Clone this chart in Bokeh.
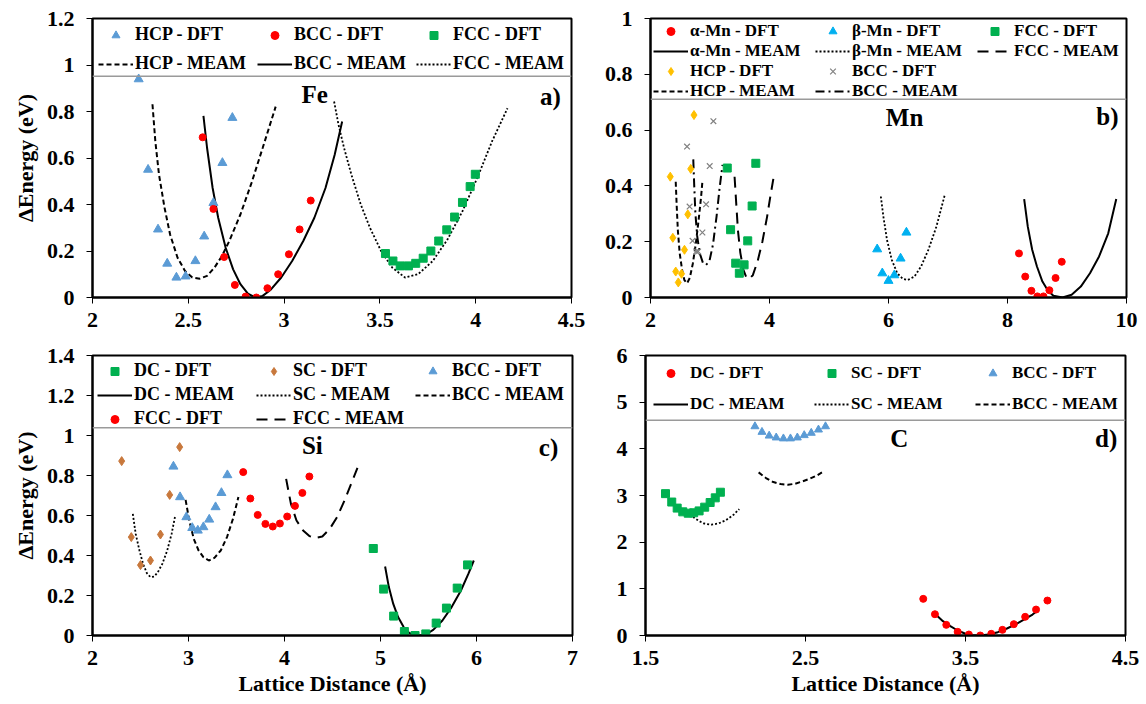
from bokeh.plotting import figure
from bokeh.models import FixedTicker, Legend, LegendItem, Span
from bokeh.layouts import column, row
from bokeh.embed import file_html
from bokeh.resources import INLINE
from bokeh.core.properties import value

FONT = "Liberation Serif"

# ================= Panel a: Fe =================
fe_hcp_dft_x = [2.241, 2.290, 2.342, 2.390, 2.438, 2.486, 2.537, 2.583, 2.631, 2.678, 2.730]
fe_hcp_dft_y = [0.939, 0.550, 0.293, 0.146, 0.086, 0.091, 0.157, 0.263, 0.407, 0.579, 0.773]
fe_bcc_dft_x = [2.575, 2.631, 2.687, 2.743, 2.799, 2.855, 2.913, 2.969, 3.025, 3.081, 3.139]
fe_bcc_dft_y = [0.689, 0.381, 0.174, 0.054, 0.004, 0.000, 0.040, 0.100, 0.186, 0.293, 0.417]
fe_fcc_dft_x = [3.529, 3.568, 3.606, 3.649, 3.687, 3.726, 3.766, 3.807, 3.849, 3.890, 3.931, 3.971, 3.998]
fe_fcc_dft_y = [0.189, 0.157, 0.136, 0.136, 0.147, 0.169, 0.200, 0.243, 0.291, 0.346, 0.409, 0.477, 0.530]
fe_hcp_meam_x = [2.313, 2.328, 2.347, 2.376, 2.405, 2.444, 2.483, 2.521, 2.560, 2.598, 2.637, 2.676,
                 2.714, 2.772, 2.830, 2.888, 2.956]
fe_hcp_meam_y = [0.831, 0.671, 0.529, 0.386, 0.271, 0.171, 0.114, 0.086, 0.081, 0.093, 0.129, 0.179,
                 0.243, 0.357, 0.493, 0.643, 0.821]
fe_bcc_meam_x = [2.579, 2.598, 2.627, 2.656, 2.695, 2.734, 2.772, 2.811, 2.849, 2.888, 2.927, 2.985,
                 3.042, 3.100, 3.158, 3.216, 3.264, 3.303]
fe_bcc_meam_y = [0.781, 0.643, 0.471, 0.343, 0.214, 0.121, 0.057, 0.017, 0.000, 0.007, 0.031, 0.086,
                 0.157, 0.243, 0.343, 0.471, 0.614, 0.757]
fe_fcc_meam_x = [3.261, 3.284, 3.313, 3.351, 3.400, 3.448, 3.506, 3.564, 3.631, 3.699, 3.776, 3.853,
                 3.931, 4.008, 4.085, 4.166]
fe_fcc_meam_y = [0.843, 0.743, 0.643, 0.529, 0.400, 0.300, 0.200, 0.129, 0.086, 0.100, 0.157, 0.250,
                 0.371, 0.514, 0.671, 0.814]
fe_note_x = [3.16, 4.39]
fe_note_y = [0.872, 0.865]
fe_note_text = ["Fe", "a)"]
fe_xticks = [2, 2.5, 3, 3.5, 4, 4.5]
fe_xlabels = ["2", "2.5", "3", "3.5", "4", "4.5"]
fe_yticks = [0, 0.2, 0.4, 0.6, 0.8, 1.0, 1.2]
fe_ylabels = ["0", "0.2", "0.4", "0.6", "0.8", "1", "1.2"]
fe_legend_line = 0.952

# ================= Panel b: Mn =================
mn_a_dft_x = [8.193, 8.298, 8.402, 8.501, 8.605, 8.704, 8.808, 8.912]
mn_a_dft_y = [0.158, 0.075, 0.024, 0.004, 0.004, 0.026, 0.070, 0.128]
mn_a_meam_x = [8.280, 8.341, 8.415, 8.495, 8.587, 8.679, 8.771, 8.925, 9.078, 9.232, 9.386, 9.539, 9.693, 9.828]
mn_a_meam_y = [0.353, 0.254, 0.171, 0.111, 0.057, 0.025, 0.006, 0.000, 0.010, 0.039, 0.087, 0.147, 0.230, 0.353]
mn_b_dft_x = [5.810, 5.896, 6.000, 6.098, 6.203, 6.301]
mn_b_dft_y = [0.173, 0.087, 0.060, 0.080, 0.140, 0.233]
mn_b_meam_x = [5.871, 5.914, 5.975, 6.055, 6.147, 6.240, 6.326, 6.436, 6.547, 6.670, 6.805, 6.946]
mn_b_meam_y = [0.362, 0.290, 0.206, 0.135, 0.087, 0.067, 0.063, 0.075, 0.111, 0.171, 0.254, 0.368]
mn_fcc_dft_x = [3.290, 3.346, 3.432, 3.493, 3.573, 3.634, 3.708, 3.770]
mn_fcc_dft_y = [0.464, 0.243, 0.123, 0.087, 0.117, 0.203, 0.328, 0.481]
mn_fcc_meam_x = [3.413, 3.440, 3.470, 3.510, 3.560, 3.610, 3.653, 3.720, 3.800, 3.880, 3.960, 4.020, 4.071]
mn_fcc_meam_y = [0.433, 0.340, 0.240, 0.160, 0.100, 0.072, 0.066, 0.080, 0.130, 0.200, 0.290, 0.370, 0.433]
mn_hcp_dft_x = [2.332, 2.375, 2.424, 2.467, 2.522, 2.571, 2.627, 2.676, 2.731]
mn_hcp_dft_y = [0.433, 0.214, 0.093, 0.054, 0.085, 0.171, 0.298, 0.461, 0.654]
mn_hcp_meam_x = [2.424, 2.440, 2.460, 2.490, 2.530, 2.570, 2.614, 2.660, 2.710, 2.760, 2.810, 2.850, 2.872]
mn_hcp_meam_y = [0.415, 0.330, 0.240, 0.160, 0.100, 0.062, 0.051, 0.070, 0.120, 0.190, 0.280, 0.360, 0.415]
mn_bcc_dft_x = [2.614, 2.657, 2.707, 2.768, 2.800, 2.872, 2.934, 2.995, 3.057]
mn_bcc_dft_y = [0.541, 0.326, 0.203, 0.165, 0.165, 0.233, 0.334, 0.471, 0.632]
mn_bcc_meam_x = [2.719, 2.735, 2.755, 2.785, 2.825, 2.880, 2.934, 2.990, 3.050, 3.110, 3.160, 3.210]
mn_bcc_meam_y = [0.495, 0.400, 0.300, 0.220, 0.160, 0.125, 0.117, 0.130, 0.190, 0.290, 0.390, 0.475]
mn_note_x = [6.27, 9.68]
mn_note_y = [0.646, 0.648]
mn_note_text = ["Mn", "b)"]
mn_xticks = [2, 4, 6, 8, 10]
mn_xlabels = ["2", "4", "6", "8", "10"]
mn_yticks = [0, 0.2, 0.4, 0.6, 0.8, 1.0]
mn_ylabels = ["0", "0.2", "0.4", "0.6", "0.8", "1"]
mn_legend_line = 0.711

# ================= Panel c: Si =================
si_sc_dft_x = [2.304, 2.404, 2.500, 2.604, 2.708, 2.804, 2.908]
si_sc_dft_y = [0.872, 0.492, 0.352, 0.375, 0.505, 0.703, 0.942]
si_sc_meam_x = [2.420, 2.450, 2.489, 2.527, 2.566, 2.604, 2.643, 2.681, 2.727, 2.778, 2.824, 2.862]
si_sc_meam_y = [0.608, 0.508, 0.425, 0.358, 0.312, 0.292, 0.295, 0.317, 0.358, 0.425, 0.508, 0.600]
si_bcc_dft_x = [2.843, 2.912, 2.978, 3.039, 3.097, 3.155, 3.216, 3.282, 3.343, 3.405]
si_bcc_dft_y = [0.845, 0.692, 0.592, 0.538, 0.525, 0.542, 0.580, 0.642, 0.713, 0.802]
si_bcc_meam_x = [2.970, 3.008, 3.055, 3.105, 3.155, 3.212, 3.270, 3.336, 3.401, 3.463, 3.520]
si_bcc_meam_y = [0.678, 0.575, 0.483, 0.425, 0.392, 0.375, 0.388, 0.425, 0.492, 0.583, 0.692]
si_fcc_dft_x = [3.570, 3.644, 3.721, 3.801, 3.878, 3.952, 4.028, 4.109, 4.186, 4.259]
si_fcc_dft_y = [0.817, 0.685, 0.603, 0.558, 0.545, 0.560, 0.595, 0.648, 0.713, 0.795]
si_fcc_meam_x = [4.017, 4.067, 4.125, 4.194, 4.259, 4.325, 4.394, 4.471, 4.548, 4.625, 4.694, 4.760]
si_fcc_meam_y = [0.783, 0.658, 0.575, 0.525, 0.497, 0.488, 0.495, 0.533, 0.592, 0.675, 0.758, 0.838]
si_dc_dft_x = [4.925, 5.033, 5.137, 5.249, 5.360, 5.472, 5.580, 5.687, 5.799, 5.907]
si_dc_dft_y = [0.435, 0.232, 0.097, 0.020, 0.000, 0.008, 0.062, 0.137, 0.237, 0.353]
si_dc_meam_x = [5.048, 5.087, 5.133, 5.183, 5.241, 5.299, 5.357, 5.414, 5.472, 5.549, 5.645, 5.741,
                5.838, 5.915, 5.972]
si_dc_meam_y = [0.345, 0.242, 0.158, 0.092, 0.042, 0.013, 0.002, 0.000, 0.005, 0.028, 0.075, 0.142,
                0.225, 0.308, 0.375]
si_note_x = [4.29, 6.75]
si_note_y = [0.95, 0.942]
si_note_text = ["Si", "c)"]
si_xticks = [2, 3, 4, 5, 6, 7]
si_xlabels = ["2", "3", "4", "5", "6", "7"]
si_yticks = [0, 0.2, 0.4, 0.6, 0.8, 1.0, 1.2, 1.4]
si_ylabels = ["0", "0.2", "0.4", "0.6", "0.8", "1", "1.2", "1.4"]
si_legend_line = 1.0385

# ================= Panel d: C =================
c_sc_dft_x = [1.625, 1.664, 1.698, 1.733, 1.767, 1.801, 1.835, 1.870, 1.904, 1.936, 1.968]
c_sc_dft_y = [3.04, 2.86, 2.73, 2.65, 2.62, 2.63, 2.67, 2.75, 2.85, 2.95, 3.07]
c_sc_meam_x = [1.797, 1.831, 1.865, 1.911, 1.956, 2.002, 2.048, 2.086]
c_sc_meam_y = [2.54, 2.46, 2.40, 2.375, 2.40, 2.47, 2.58, 2.71]
c_bcc_dft_x = [2.184, 2.228, 2.273, 2.317, 2.362, 2.406, 2.449, 2.492, 2.536, 2.581, 2.625]
c_bcc_dft_y = [4.48, 4.36, 4.28, 4.24, 4.22, 4.22, 4.24, 4.29, 4.34, 4.41, 4.48]
c_bcc_meam_x = [2.207, 2.253, 2.299, 2.344, 2.390, 2.435, 2.481, 2.527, 2.572, 2.607]
c_bcc_meam_y = [3.495, 3.374, 3.288, 3.245, 3.231, 3.252, 3.302, 3.359, 3.431, 3.502]
c_dc_dft_x = [3.236, 3.309, 3.380, 3.451, 3.521, 3.592, 3.661, 3.731, 3.802, 3.873, 3.941, 4.012]
c_dc_dft_y = [0.785, 0.456, 0.228, 0.078, 0.021, 0.000, 0.036, 0.121, 0.243, 0.400, 0.556, 0.749]
c_dc_meam_x = [3.314, 3.359, 3.405, 3.451, 3.496, 3.542, 3.588, 3.645, 3.702, 3.759, 3.816, 3.873,
               3.919, 3.953]
c_dc_meam_y = [0.449, 0.307, 0.200, 0.107, 0.043, 0.007, 0.000, 0.021, 0.071, 0.150, 0.243, 0.357,
               0.449, 0.542]
c_note_x = [3.086, 4.379]
c_note_y = [4.215, 4.215]
c_note_text = ["C", "d)"]
c_xticks = [1.5, 2.5, 3.5, 4.5]
c_xlabels = ["1.5", "2.5", "3.5", "4.5"]
c_yticks = [0, 1, 2, 3, 4, 5, 6]
c_ylabels = ["0", "1", "2", "3", "4", "5", "6"]
c_legend_line = 4.61

# ================= colours / styles =================
BLUE = "#5B9BD5"
RED = "#FF0000"
GREEN = "#00B050"
YELLOW = "#FFC000"
CYAN = "#00B0F0"
BROWN = "#C8783C"
GRAY = "#808080"


def make_fig(xr, yr, w, h, bl, br, bt, bb):
    p = figure(width=w, height=h, x_range=xr, y_range=yr, output_backend="svg",
               toolbar_location=None, min_border_left=bl, min_border_right=br,
               min_border_top=bt, min_border_bottom=bb)
    p.grid.visible = False
    p.outline_line_color = "black"
    p.outline_line_width = 2
    p.background_fill_color = "white"
    p.border_fill_color = "white"
    return p


def style_axes(p, xt, xl, yt, yl, xlabel=None, ylabel=None):
    p.xaxis.ticker = FixedTicker(ticks=xt)
    p.yaxis.ticker = FixedTicker(ticks=yt)
    p.xaxis.major_label_overrides = {float(t): s for t, s in zip(xt, xl)}
    p.yaxis.major_label_overrides = {float(t): s for t, s in zip(yt, yl)}
    for ax in (p.xaxis[0], p.yaxis[0]):
        ax.major_label_text_font = FONT
        ax.major_label_text_font_style = "bold"
        ax.major_label_text_font_size = "22px"
        ax.major_label_text_color = "black"
        ax.axis_line_width = 2
        ax.axis_line_color = "black"
        ax.major_tick_in = 0
        ax.major_tick_out = 6
        ax.major_tick_line_width = 1
        ax.minor_tick_in = 0
        ax.minor_tick_out = 0
        ax.axis_label_text_font = FONT
        ax.axis_label_text_font_style = "bold"
        ax.axis_label_text_font_size = "22px"
        ax.axis_label_text_color = "black"
    p.xaxis.major_label_standoff = 9
    p.yaxis.major_label_standoff = 12
    if xlabel:
        p.xaxis.axis_label = xlabel
        p.xaxis.axis_label_standoff = 3
    if ylabel:
        p.yaxis.axis_label = ylabel
        p.yaxis.axis_label_standoff = 6


def notes(p, xs, ys, texts):
    p.text(x=xs, y=ys, text=texts, text_font=value(FONT), text_font_style="bold",
           text_font_size="25px", text_align="center", text_baseline="middle", text_color="black")


def add_legend(p, items, nrows, pad, lw, spacing, line_y, fs):
    leg = Legend(items=[LegendItem(label=l, renderers=[r]) for l, r in items],
                 orientation="vertical", nrows=nrows, location="top_left",
                 margin=0, padding=pad, spacing=spacing, glyph_width=35, glyph_height=20,
                 label_height=20, label_width=lw, label_standoff=2,
                 label_text_font=FONT, label_text_font_style="bold", label_text_font_size=fs,
                 label_text_color="black", background_fill_alpha=0, border_line_alpha=0)
    p.add_layout(leg)
    p.add_layout(Span(location=line_y, dimension="width", line_color="#9A9A9A", line_width=1.5))


def dft(p, xs, ys, marker, color, size):
    return p.scatter(xs, ys, marker=marker, size=size, fill_color=color, line_color=color)


def meam(p, xs, ys, dash, width=2):
    return p.line(xs, ys, line_color="black", line_width=width, line_dash=dash)


SHORT = "5 3"
DOT = "2 2"
LONG = "11 7"
DASHDOT = "9 4 2 4"

# ---------- a ----------
pa = make_fig((2, 4.5), (0, 1.2), 600, 340, 92, 29, 16, 43)
style_axes(pa, fe_xticks, fe_xlabels, fe_yticks, fe_ylabels, ylabel="ΔEnergy (eV)")
a1 = meam(pa, fe_hcp_meam_x, fe_hcp_meam_y, SHORT)
a2 = meam(pa, fe_bcc_meam_x, fe_bcc_meam_y, "solid")
a3 = meam(pa, fe_fcc_meam_x, fe_fcc_meam_y, DOT, 1.8)
a4 = dft(pa, fe_hcp_dft_x, fe_hcp_dft_y, "triangle", BLUE, 9)
a5 = dft(pa, fe_bcc_dft_x, fe_bcc_dft_y, "circle", RED, 7)
a6 = dft(pa, fe_fcc_dft_x, fe_fcc_dft_y, "square", GREEN, 8)
notes(pa, fe_note_x, fe_note_y, fe_note_text)
add_legend(pa, [("HCP - DFT", a4), ("HCP - MEAM", a1), ("BCC - DFT", a5), ("BCC - MEAM", a2),
                ("FCC - DFT", a6), ("FCC - MEAM", a3)], 2, 6, 114, 8, fe_legend_line, "18px")

# ---------- b ----------
pb = make_fig((2, 10), (0, 1), 546, 340, 50, 20, 18, 42)
style_axes(pb, mn_xticks, mn_xlabels, mn_yticks, mn_ylabels)
b1 = meam(pb, mn_a_meam_x, mn_a_meam_y, "solid")
b2 = meam(pb, mn_b_meam_x, mn_b_meam_y, DOT, 1.8)
b3 = meam(pb, mn_fcc_meam_x, mn_fcc_meam_y, LONG)
b4 = meam(pb, mn_hcp_meam_x, mn_hcp_meam_y, SHORT)
b5 = meam(pb, mn_bcc_meam_x, mn_bcc_meam_y, DASHDOT)
b6 = dft(pb, mn_a_dft_x, mn_a_dft_y, "circle", RED, 7)
b7 = dft(pb, mn_b_dft_x, mn_b_dft_y, "triangle", CYAN, 9)
b8 = dft(pb, mn_fcc_dft_x, mn_fcc_dft_y, "square", GREEN, 8)
b9 = dft(pb, mn_hcp_dft_x, mn_hcp_dft_y, "diamond", YELLOW, 9)
b10 = pb.scatter(mn_bcc_dft_x, mn_bcc_dft_y, marker="x", size=8, line_color=GRAY, line_width=1.2)
notes(pb, mn_note_x, mn_note_y, mn_note_text)
add_legend(pb, [("α-Mn - DFT", b6), ("α-Mn - MEAM", b1), ("HCP - DFT", b9), ("HCP - MEAM", b4),
                ("β-Mn - DFT", b7), ("β-Mn - MEAM", b2), ("BCC - DFT", b10), ("BCC - MEAM", b5),
                ("FCC - DFT", b8), ("FCC - MEAM", b3)], 4, 3, 125, 0, mn_legend_line, "17px")

# ---------- c ----------
pc = make_fig((2, 7), (0, 1.4), 600, 364, 92, 28, 15, 69)
style_axes(pc, si_xticks, si_xlabels, si_yticks, si_ylabels,
           xlabel="Lattice Distance (Å)", ylabel="ΔEnergy (eV)")
c1 = meam(pc, si_dc_meam_x, si_dc_meam_y, "solid")
c2 = meam(pc, si_sc_meam_x, si_sc_meam_y, DOT, 1.8)
c3 = meam(pc, si_bcc_meam_x, si_bcc_meam_y, SHORT)
c4 = meam(pc, si_fcc_meam_x, si_fcc_meam_y, LONG)
c5 = dft(pc, si_dc_dft_x, si_dc_dft_y, "square", GREEN, 8)
c6 = dft(pc, si_sc_dft_x, si_sc_dft_y, "diamond", BROWN, 9)
c7 = dft(pc, si_bcc_dft_x, si_bcc_dft_y, "triangle", BLUE, 9)
c8 = dft(pc, si_fcc_dft_x, si_fcc_dft_y, "circle", RED, 7)
notes(pc, si_note_x, si_note_y, si_note_text)
add_legend(pc, [("DC - DFT", c5), ("DC - MEAM", c1), ("FCC - DFT", c8),
                ("SC - DFT", c6), ("SC - MEAM", c2), ("FCC - MEAM", c4),
                ("BCC - DFT", c7), ("BCC - MEAM", c3)], 3, 5, 119, 3, si_legend_line, "18px")

# ---------- d ----------
pd_ = make_fig((1.5, 4.5), (0, 6), 546, 364, 45, 21, 15, 68)
style_axes(pd_, c_xticks, c_xlabels, c_yticks, c_ylabels, xlabel="Lattice Distance (Å)")
d1 = meam(pd_, c_dc_meam_x, c_dc_meam_y, "solid")
d2 = meam(pd_, c_sc_meam_x, c_sc_meam_y, DOT, 1.8)
d3 = meam(pd_, c_bcc_meam_x, c_bcc_meam_y, SHORT)
d4 = dft(pd_, c_dc_dft_x, c_dc_dft_y, "circle", RED, 7)
d5 = dft(pd_, c_sc_dft_x, c_sc_dft_y, "square", GREEN, 8)
d6 = dft(pd_, c_bcc_dft_x, c_bcc_dft_y, "triangle", BLUE, 8)
notes(pd_, c_note_x, c_note_y, c_note_text)
add_legend(pd_, [("DC - DFT", d4), ("DC - MEAM", d1), ("SC - DFT", d5), ("SC - MEAM", d2),
                 ("BCC - DFT", d6), ("BCC - MEAM", d3)], 2, 8, 113, 11, c_legend_line, "17px")

layout = column(row(pa, pb), row(pc, pd_))
open("out.html", "w").write(file_html(layout, INLINE))
